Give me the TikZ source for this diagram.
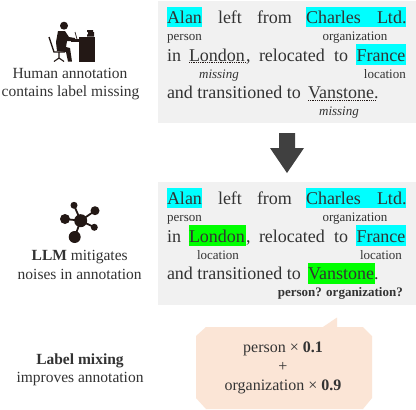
\documentclass[tikz,border=0pt]{standalone}
\usepackage{fontspec}
\setmainfont{Liberation Serif}
\definecolor{ink}{HTML}{231815}
\definecolor{txt}{HTML}{333333}
\definecolor{panel}{HTML}{F1F1F1}
\definecolor{cy}{HTML}{00FFFF}
\definecolor{gr}{HTML}{00FF00}
\definecolor{peach}{HTML}{FBE5D6}
\definecolor{arrowc}{HTML}{404040}
\tikzset{
  x=1pt,y=-1pt,
  word/.style={anchor=base west,inner sep=0pt,outer sep=0pt,font=\fontsize{18}{20}\selectfont,text=txt},
  lab/.style={anchor=base,inner sep=0pt,font=\fontsize{13}{15}\selectfont,text=txt},
  side/.style={anchor=base,inner sep=0pt,font=\fontsize{15.5}{18}\selectfont,text=txt},
  mix/.style={anchor=base,inner sep=0pt,font=\fontsize{16}{18}\selectfont,text=txt},
  under/.style={draw=ink,line width=0.8pt,dash pattern=on 1pt off 0.8pt},
}
\begin{document}
\begin{tikzpicture}
\useasboundingbox (0,0) rectangle (416,410);
\fill[white] (0,0) rectangle (416,410);
% top panel
\fill[panel] (158,1) rectangle (416,123);
\fill[cy] (167,7) rectangle (202,27);
\fill[cy] (306,7) rectangle (406,27);
\fill[cy] (356,44) rectangle (406,65);
\node[word] (alan) at (167,23) {Alan};
\node[word] (left) at (218,23) {left};
\node[word] (from) at (257,23) {from};
\node[word] (charles) at (306,23) {Charles};
\node[word] (ltd) at (377,23) {Ltd.};
\node[lab,anchor=base west] (person) at (167,40) {person};
\node[lab] (org) at (355,40) {organization};
\node[word] (in) at (167,61) {in};
\node[word] (london) at (189,61) {London};
\node[word] (comma) at (246,61) {,};
\node[word] (reloc) at (259,61) {relocated};
\node[word] (to) at (334,61) {to};
\node[word] (france) at (356.5,61) {France};
\node[lab,anchor=base east] (loc1) at (406,78) {location};
\draw[under] (189,62.6) -- (246,62.6);
\node[lab,font=\fontsize{13}{15}\selectfont\itshape] (miss1) at (219,78) {missing};
\node[word] (and) at (167,98.5) {and transitioned to};
\node[word] (vanstone) at (308,98.5) {Vanstone};
\node[word] (dot1) at (374,98.5) {.};
\draw[under] (308,100.2) -- (375,100.2);
\node[lab,font=\fontsize{13}{15}\selectfont\itshape] (miss2) at (339,115) {missing};
% arrow
\fill[arrowc] (279,133) -- (295,133) -- (295,148) -- (304,148) -- (287,173) -- (270,148) -- (279,148) -- cycle;
% lower panel
\fill[panel] (158,182) rectangle (416,305);
\begin{scope}[yshift=-181pt]
\fill[cy] (167,7) rectangle (202,27);
\fill[cy] (306,7) rectangle (406,27);
\fill[cy] (356,44) rectangle (406,65);
\fill[gr] (189,44) rectangle (246,65);
\fill[gr] (308,82) rectangle (375,103);
\node[word] (alanb) at (167,23) {Alan};
\node[word] (leftb) at (218,23) {left};
\node[word] (fromb) at (257,23) {from};
\node[word] (charlesb) at (306,23) {Charles};
\node[word] (ltdb) at (377,23) {Ltd.};
\node[lab,anchor=base west] (personb) at (167,40) {person};
\node[lab] (orgb) at (355,40) {organization};
\node[word] (inb) at (167,61) {in};
\node[word] (londonb) at (189,61) {London};
\node[word] (commab) at (246,61) {,};
\node[word] (relocb) at (259,61) {relocated};
\node[word] (tob) at (334,61) {to};
\node[word] (franceb) at (356.5,61) {France};
\node[lab] (locb1) at (218,78) {location};
\node[lab] (locb2) at (381,78) {location};
\node[word] (andb) at (167,98.5) {and transitioned to};
\node[word] (vanb) at (308,98.5) {Vanstone};
\node[word] (dotb) at (374,98.5) {.};
\node[lab,anchor=base east,font=\fontsize{13}{15}\selectfont\bfseries] (ask) at (403,115) {person? organization?};
\end{scope}
% bubble
\fill[peach] (196,336) -- (206,327) -- (323,327) -- (337,317.5) -- (337,327) -- (363,327) -- (372,336) -- (372,398) -- (363,409) -- (206,409) -- (196,398) -- cycle;
\node[mix] (m1) at (283,352.5) {person × \textbf{0.1}};
\node[mix] (m2) at (283,371) {+};
\node[mix] (m3) at (283,390) {organization × \textbf{0.9}};
% left labels
\node[side] (h1) at (70,78) {Human annotation};
\node[side] (h2) at (70.5,96) {contains label missing};
\node[side] (l1) at (79.7,260) {\textbf{LLM} mitigates};
\node[side] (l2) at (79.7,279) {noises in annotation};
\node[side] (x1) at (80,364) {\textbf{Label mixing}};
\node[side] (x2) at (80,382) {improves annotation};
% network icon
\draw[ink,line width=1.8pt] (80.7,220.7) -- (74,205.3) (80.7,220.7) -- (95,210.7) (80.7,220.7) -- (65,219) (80.7,220.7) -- (94.3,227.3) (80.7,220.7) -- (74.7,237);
\fill[ink] (80.7,220.7) circle[radius=6.5pt] (74,205.3) circle[radius=3.5pt] (95,210.7) circle[radius=4.5pt] (65,219) circle[radius=5pt] (94.3,227.3) circle[radius=3.5pt] (74.7,237) circle[radius=6pt];
% person icon
\fill[ink] (64,25.7) circle[radius=4pt];
\fill[ink] (58,31) -- (65,31) -- (69,37) -- (75,38) -- (75,41) -- (67,41) -- (66,47) -- (70,48) -- (72,61.5) -- (68,61.5) -- (66,52) -- (57,51) -- (56,42) -- cycle;
\draw[ink,line width=1.3pt] (49,37) -- (54,52) -- (65,52);
\draw[ink,line width=1.1pt] (59,52) -- (59,59) (54,61.5) -- (59,58) -- (64,61.5);
\fill[ink] (70.5,39.3) rectangle (94.7,41.8);
\fill[ink] (79,36.7) rectangle (94.7,61.7);
\fill[ink] (87,30) rectangle (93,32) (88,32) rectangle (94,34.3) (87,34.3) rectangle (94,36.7);
\draw[ink,line width=0.7pt] (75,32) -- (77,39);
\end{tikzpicture}
\end{document}
